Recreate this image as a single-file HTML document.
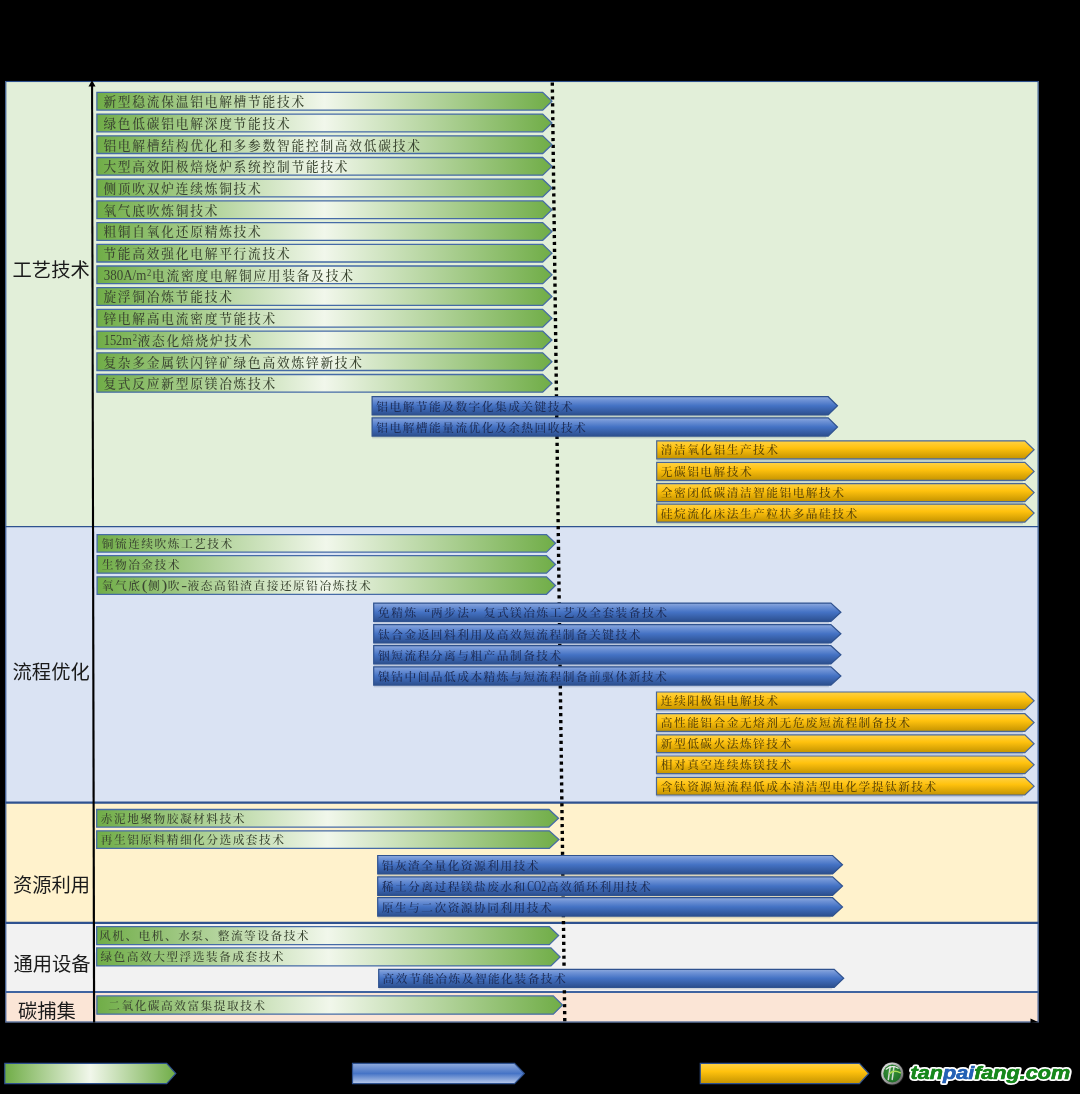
<!DOCTYPE html>
<html lang="zh-CN"><head><meta charset="utf-8"><title>技术路线图</title>
<style>
html,body{margin:0;padding:0;background:#000;}
body{width:1080px;height:1094px;overflow:hidden;}
svg{display:block;}
.lab{font-family:"Liberation Sans","Noto Sans CJK SC",sans-serif;font-size:19.3px;fill:#1a1a1a;}
.t{font-family:"Liberation Serif","Noto Serif CJK SC",serif;font-weight:500;}
.g{fill:#3b4632;}
.b{fill:#1d2c55;}
.o{fill:#5b4508;}
</style></head><body>
<svg width="1080" height="1094" viewBox="0 0 1080 1094">
<defs>
<linearGradient id="gg" x1="0" y1="0" x2="1" y2="0">
<stop offset="0" stop-color="#70ad47"/><stop offset="0.5" stop-color="#f1f7eb"/><stop offset="1" stop-color="#70ad47"/>
</linearGradient>
<linearGradient id="bg" x1="0" y1="0" x2="0" y2="1">
<stop offset="0" stop-color="#8faadc"/><stop offset="0.18" stop-color="#6f93d6"/><stop offset="0.5" stop-color="#4472c4"/><stop offset="1" stop-color="#2c4f8e"/>
</linearGradient>
<linearGradient id="og" x1="0" y1="0" x2="0" y2="1">
<stop offset="0" stop-color="#ffd245"/><stop offset="0.4" stop-color="#ffc20e"/><stop offset="1" stop-color="#c49300"/>
</linearGradient>
<linearGradient id="bl" x1="0" y1="0" x2="0" y2="1">
<stop offset="0" stop-color="#8faadc"/><stop offset="0.5" stop-color="#4674c6"/><stop offset="1" stop-color="#b9caea"/>
</linearGradient>
<radialGradient id="lg" cx="0.45" cy="0.4" r="0.6">
<stop offset="0" stop-color="#3b973b"/><stop offset="1" stop-color="#1f6f27"/>
</radialGradient>
<linearGradient id="ring" x1="0" y1="0" x2="1" y2="1">
<stop offset="0" stop-color="#f2f2f2"/><stop offset="1" stop-color="#5a5a5a"/>
</linearGradient>
</defs>
<rect x="0" y="0" width="1080" height="1094" fill="#000"/>

<rect x="5.3" y="81.0" width="1033.3" height="445.6" fill="#e2efd9"/>
<rect x="5.3" y="526.6" width="1033.3" height="276.0" fill="#dae3f3"/>
<rect x="5.3" y="802.6" width="1033.3" height="120.3" fill="#fff2cc"/>
<rect x="5.3" y="922.9" width="1033.3" height="69.1" fill="#f2f2f2"/>
<rect x="5.3" y="992.0" width="1033.3" height="30.4" fill="#fbe5d6"/>
<rect x="5.8" y="81.5" width="1032.3" height="940.5" fill="none" stroke="#2f528f" stroke-width="1.1"/>
<line x1="5.3" x2="1038.6" y1="526.6" y2="526.6" stroke="#2f528f" stroke-width="1.3"/>
<line x1="5.3" x2="1038.6" y1="802.6" y2="802.6" stroke="#2f528f" stroke-width="2.2"/>
<line x1="5.3" x2="1038.6" y1="922.9" y2="922.9" stroke="#2f528f" stroke-width="2.2"/>
<line x1="5.3" x2="1038.6" y1="992.0" y2="992.0" stroke="#3f639f" stroke-width="2.2"/>
<line x1="552.3" y1="82.5" x2="564.8" y2="1022.5" stroke="#000" stroke-width="3.4" stroke-dasharray="3.2 3.73"/>
<polygon points="91.05,86 93.1,86 95.2,1022.4 93.0,1022.4" fill="#000"/>
<polygon points="92.0,80.3 95.5,86.6 88.5,86.6" fill="#000"/>
<polygon points="1038.6,1022.2 1030.5,1018.6 1030.5,1023" fill="#000"/>
<text class="lab" x="12.6" y="276.9">工艺技术</text>
<text class="lab" x="12.6" y="679.2">流程优化</text>
<text class="lab" x="12.9" y="892.0">资源利用</text>
<text class="lab" x="13.5" y="971.0">通用设备</text>
<text class="lab" x="17.9" y="1018.0">碳捕集</text>
<polygon points="96.9,92.4 542.7,92.4 551.9,101.25 542.7,110.1 96.9,110.1" fill="url(#gg)" stroke="#466ba6" stroke-width="1.3" stroke-linejoin="miter"/>
<text class="t g" x="103.4" y="106.1" font-size="12.7" letter-spacing="1.78">新型稳流保温铝电解槽节能技术</text>
<polygon points="96.9,114.1 542.7,114.1 551.9,122.95 542.7,131.8 96.9,131.8" fill="url(#gg)" stroke="#466ba6" stroke-width="1.3" stroke-linejoin="miter"/>
<text class="t g" x="103.4" y="127.8" font-size="12.7" letter-spacing="1.78">绿色低碳铝电解深度节能技术</text>
<polygon points="96.9,135.8 542.7,135.8 551.9,144.65 542.7,153.5 96.9,153.5" fill="url(#gg)" stroke="#466ba6" stroke-width="1.3" stroke-linejoin="miter"/>
<text class="t g" x="103.4" y="149.5" font-size="12.7" letter-spacing="1.78">铝电解槽结构优化和多参数智能控制高效低碳技术</text>
<polygon points="96.9,157.5 542.7,157.5 551.9,166.35 542.7,175.2 96.9,175.2" fill="url(#gg)" stroke="#466ba6" stroke-width="1.3" stroke-linejoin="miter"/>
<text class="t g" x="103.4" y="171.2" font-size="12.7" letter-spacing="1.78">大型高效阳极焙烧炉系统控制节能技术</text>
<polygon points="96.9,179.2 542.7,179.2 551.9,188.05 542.7,196.9 96.9,196.9" fill="url(#gg)" stroke="#466ba6" stroke-width="1.3" stroke-linejoin="miter"/>
<text class="t g" x="103.4" y="192.9" font-size="12.7" letter-spacing="1.78">侧顶吹双炉连续炼铜技术</text>
<polygon points="96.9,200.9 542.7,200.9 551.9,209.75 542.7,218.6 96.9,218.6" fill="url(#gg)" stroke="#466ba6" stroke-width="1.3" stroke-linejoin="miter"/>
<text class="t g" x="103.4" y="214.6" font-size="12.7" letter-spacing="1.78">氧气底吹炼铜技术</text>
<polygon points="96.9,222.6 542.7,222.6 551.9,231.45 542.7,240.3 96.9,240.3" fill="url(#gg)" stroke="#466ba6" stroke-width="1.3" stroke-linejoin="miter"/>
<text class="t g" x="103.4" y="236.3" font-size="12.7" letter-spacing="1.78">粗铜自氧化还原精炼技术</text>
<polygon points="96.9,244.3 542.7,244.3 551.9,253.15 542.7,262.0 96.9,262.0" fill="url(#gg)" stroke="#466ba6" stroke-width="1.3" stroke-linejoin="miter"/>
<text class="t g" x="103.4" y="258.0" font-size="12.7" letter-spacing="1.78">节能高效强化电解平行流技术</text>
<polygon points="96.9,266.0 542.7,266.0 551.9,274.85 542.7,283.7 96.9,283.7" fill="url(#gg)" stroke="#466ba6" stroke-width="1.3" stroke-linejoin="miter"/>
<text class="t g" x="103.7" y="279.7" font-size="15.6" textLength="42.6" lengthAdjust="spacingAndGlyphs">380A/m</text>
<text class="t g" x="147.1" y="275.8" font-size="9.8" textLength="4.3" lengthAdjust="spacingAndGlyphs">2</text>
<text class="t g" x="152.1" y="279.7" font-size="12.7" letter-spacing="1.78">电流密度电解铜应用装备及技术</text>
<polygon points="96.9,287.7 542.7,287.7 551.9,296.55 542.7,305.4 96.9,305.4" fill="url(#gg)" stroke="#466ba6" stroke-width="1.3" stroke-linejoin="miter"/>
<text class="t g" x="103.4" y="301.4" font-size="12.7" letter-spacing="1.78">旋浮铜冶炼节能技术</text>
<polygon points="96.9,309.4 542.7,309.4 551.9,318.25 542.7,327.1 96.9,327.1" fill="url(#gg)" stroke="#466ba6" stroke-width="1.3" stroke-linejoin="miter"/>
<text class="t g" x="103.4" y="323.1" font-size="12.7" letter-spacing="1.78">锌电解高电流密度节能技术</text>
<polygon points="96.9,331.1 542.7,331.1 551.9,339.95 542.7,348.8 96.9,348.8" fill="url(#gg)" stroke="#466ba6" stroke-width="1.3" stroke-linejoin="miter"/>
<text class="t g" x="103.7" y="344.8" font-size="15.6" textLength="28.2" lengthAdjust="spacingAndGlyphs">152m</text>
<text class="t g" x="132.7" y="340.9" font-size="9.8" textLength="4.3" lengthAdjust="spacingAndGlyphs">2</text>
<text class="t g" x="137.6" y="344.8" font-size="12.7" letter-spacing="1.78">液态化焙烧炉技术</text>
<polygon points="96.9,352.8 542.7,352.8 551.9,361.65 542.7,370.5 96.9,370.5" fill="url(#gg)" stroke="#466ba6" stroke-width="1.3" stroke-linejoin="miter"/>
<text class="t g" x="103.4" y="366.5" font-size="12.7" letter-spacing="1.78">复杂多金属铁闪锌矿绿色高效炼锌新技术</text>
<polygon points="96.9,374.5 542.7,374.5 551.9,383.35 542.7,392.2 96.9,392.2" fill="url(#gg)" stroke="#466ba6" stroke-width="1.3" stroke-linejoin="miter"/>
<text class="t g" x="103.4" y="388.2" font-size="12.7" letter-spacing="1.78">复式反应新型原镁冶炼技术</text>
<rect x="372.1" y="414.9" width="454.1" height="2.2" fill="#1f3a5f" opacity="0.16"/>
<polygon points="372.1,396.7 828.2,396.7 837.5,405.80 828.2,414.9 372.1,414.9" fill="url(#bg)" stroke="#2f528f" stroke-width="1.2" stroke-linejoin="miter"/>
<text class="t b" x="376.3" y="410.6" font-size="11.7" letter-spacing="1.5">铝电解节能及数字化集成关键技术</text>
<rect x="372.1" y="436.1" width="454.1" height="2.2" fill="#1f3a5f" opacity="0.16"/>
<polygon points="372.1,417.9 828.2,417.9 837.5,427.00 828.2,436.1 372.1,436.1" fill="url(#bg)" stroke="#2f528f" stroke-width="1.2" stroke-linejoin="miter"/>
<text class="t b" x="376.3" y="431.8" font-size="11.7" letter-spacing="1.5">铝电解槽能量流优化及余热回收技术</text>
<rect x="656.7" y="458.8" width="366.2" height="2.2" fill="#1f3a5f" opacity="0.16"/>
<polygon points="656.7,440.8 1024.9,440.8 1034.1,449.80 1024.9,458.8 656.7,458.8" fill="url(#og)" stroke="#4a6796" stroke-width="1.2" stroke-linejoin="miter"/>
<text class="t o" x="660.8" y="454.3" font-size="11.7" letter-spacing="1.5">清洁氧化铝生产技术</text>
<rect x="656.7" y="480.4" width="366.2" height="2.2" fill="#1f3a5f" opacity="0.16"/>
<polygon points="656.7,462.4 1024.9,462.4 1034.1,471.40 1024.9,480.4 656.7,480.4" fill="url(#og)" stroke="#4a6796" stroke-width="1.2" stroke-linejoin="miter"/>
<text class="t o" x="660.8" y="475.9" font-size="11.7" letter-spacing="1.5">无碳铝电解技术</text>
<rect x="656.7" y="501.6" width="366.2" height="2.2" fill="#1f3a5f" opacity="0.16"/>
<polygon points="656.7,483.6 1024.9,483.6 1034.1,492.60 1024.9,501.6 656.7,501.6" fill="url(#og)" stroke="#4a6796" stroke-width="1.2" stroke-linejoin="miter"/>
<text class="t o" x="660.8" y="497.1" font-size="11.7" letter-spacing="1.5">全密闭低碳清洁智能铝电解技术</text>
<rect x="656.7" y="522.1" width="366.2" height="2.2" fill="#1f3a5f" opacity="0.16"/>
<polygon points="656.7,504.1 1024.9,504.1 1034.1,513.10 1024.9,522.1 656.7,522.1" fill="url(#og)" stroke="#4a6796" stroke-width="1.2" stroke-linejoin="miter"/>
<text class="t o" x="660.8" y="517.6" font-size="11.7" letter-spacing="1.5">硅烷流化床法生产粒状多晶硅技术</text>
<polygon points="97.1,534.6 546.5,534.6 555.5,543.35 546.5,552.1 97.1,552.1" fill="url(#gg)" stroke="#466ba6" stroke-width="1.3" stroke-linejoin="miter"/>
<text class="t g" x="101.8" y="547.9" font-size="11.7" letter-spacing="1.5">铜锍连续吹炼工艺技术</text>
<polygon points="97.1,555.7 546.5,555.7 555.5,564.45 546.5,573.2 97.1,573.2" fill="url(#gg)" stroke="#466ba6" stroke-width="1.3" stroke-linejoin="miter"/>
<text class="t g" x="101.8" y="569.0" font-size="11.7" letter-spacing="1.5">生物冶金技术</text>
<polygon points="97.1,576.8 546.5,576.8 555.5,585.55 546.5,594.3 97.1,594.3" fill="url(#gg)" stroke="#466ba6" stroke-width="1.3" stroke-linejoin="miter"/>
<text class="t g" x="101.8" y="590.1" font-size="11.7" letter-spacing="1.5">氧气底</text>
<text class="t g" x="141.7" y="590.1" font-size="14.3" textLength="5.8" lengthAdjust="spacingAndGlyphs">(</text>
<text class="t g" x="148.0" y="590.1" font-size="11.7" letter-spacing="1.5">侧</text>
<text class="t g" x="161.5" y="590.1" font-size="14.3" textLength="5.8" lengthAdjust="spacingAndGlyphs">)</text>
<text class="t g" x="167.8" y="590.1" font-size="11.7" letter-spacing="1.5">吹</text>
<text class="t g" x="181.3" y="590.1" font-size="14.3" textLength="5.8" lengthAdjust="spacingAndGlyphs">-</text>
<text class="t g" x="187.6" y="590.1" font-size="11.7" letter-spacing="1.5">液态高铅渣直接还原铅冶炼技术</text>
<rect x="373.7" y="621.4" width="455.2" height="2.2" fill="#1f3a5f" opacity="0.16"/>
<polygon points="373.7,603.1 830.9,603.1 840.9,612.25 830.9,621.4 373.7,621.4" fill="url(#bg)" stroke="#2f528f" stroke-width="1.2" stroke-linejoin="miter"/>
<text class="t b" x="378.1" y="617.1" font-size="11.7" letter-spacing="1.5">免精炼</text>
<text class="t b" x="424.3" y="617.1" font-size="13.2">“</text>
<text class="t b" x="430.9" y="617.1" font-size="11.7" letter-spacing="1.5">两步法</text>
<text class="t b" x="470.8" y="617.1" font-size="13.2">”</text>
<text class="t b" x="483.7" y="617.1" font-size="11.7" letter-spacing="1.5">复式镁冶炼工艺及全套装备技术</text>
<rect x="373.7" y="642.9" width="455.2" height="2.2" fill="#1f3a5f" opacity="0.16"/>
<polygon points="373.7,624.6 830.9,624.6 840.9,633.75 830.9,642.9 373.7,642.9" fill="url(#bg)" stroke="#2f528f" stroke-width="1.2" stroke-linejoin="miter"/>
<text class="t b" x="378.1" y="638.6" font-size="11.7" letter-spacing="1.5">钛合金返回料利用及高效短流程制备关键技术</text>
<rect x="373.7" y="664.0" width="455.2" height="2.2" fill="#1f3a5f" opacity="0.16"/>
<polygon points="373.7,645.7 830.9,645.7 840.9,654.85 830.9,664.0 373.7,664.0" fill="url(#bg)" stroke="#2f528f" stroke-width="1.2" stroke-linejoin="miter"/>
<text class="t b" x="378.1" y="659.7" font-size="11.7" letter-spacing="1.5">铟短流程分离与粗产品制备技术</text>
<rect x="373.7" y="685.1" width="455.2" height="2.2" fill="#1f3a5f" opacity="0.16"/>
<polygon points="373.7,666.8 830.9,666.8 840.9,675.95 830.9,685.1 373.7,685.1" fill="url(#bg)" stroke="#2f528f" stroke-width="1.2" stroke-linejoin="miter"/>
<text class="t b" x="378.1" y="680.8" font-size="11.7" letter-spacing="1.5">镍钴中间品低成本精炼与短流程制备前驱体新技术</text>
<rect x="656.5" y="709.7" width="366.4" height="2.2" fill="#1f3a5f" opacity="0.16"/>
<polygon points="656.5,692.0 1024.9,692.0 1034.1,700.85 1024.9,709.7 656.5,709.7" fill="url(#og)" stroke="#4a6796" stroke-width="1.2" stroke-linejoin="miter"/>
<text class="t o" x="660.8" y="705.4" font-size="11.7" letter-spacing="1.5">连续阳极铝电解技术</text>
<rect x="656.5" y="731.4" width="366.4" height="2.2" fill="#1f3a5f" opacity="0.16"/>
<polygon points="656.5,713.7 1024.9,713.7 1034.1,722.55 1024.9,731.4 656.5,731.4" fill="url(#og)" stroke="#4a6796" stroke-width="1.2" stroke-linejoin="miter"/>
<text class="t o" x="660.8" y="727.1" font-size="11.7" letter-spacing="1.5">高性能铝合金无熔剂无危废短流程制备技术</text>
<rect x="656.5" y="752.6" width="366.4" height="2.2" fill="#1f3a5f" opacity="0.16"/>
<polygon points="656.5,734.9 1024.9,734.9 1034.1,743.75 1024.9,752.6 656.5,752.6" fill="url(#og)" stroke="#4a6796" stroke-width="1.2" stroke-linejoin="miter"/>
<text class="t o" x="660.8" y="748.3" font-size="11.7" letter-spacing="1.5">新型低碳火法炼锌技术</text>
<rect x="656.5" y="773.7" width="366.4" height="2.2" fill="#1f3a5f" opacity="0.16"/>
<polygon points="656.5,756.0 1024.9,756.0 1034.1,764.85 1024.9,773.7 656.5,773.7" fill="url(#og)" stroke="#4a6796" stroke-width="1.2" stroke-linejoin="miter"/>
<text class="t o" x="660.8" y="769.4" font-size="11.7" letter-spacing="1.5">相对真空连续炼镁技术</text>
<rect x="656.5" y="795.0" width="366.4" height="2.2" fill="#1f3a5f" opacity="0.16"/>
<polygon points="656.5,777.3 1024.9,777.3 1034.1,786.15 1024.9,795.0 656.5,795.0" fill="url(#og)" stroke="#4a6796" stroke-width="1.2" stroke-linejoin="miter"/>
<text class="t o" x="660.8" y="790.7" font-size="11.7" letter-spacing="1.5">含钛资源短流程低成本清洁型电化学提钛新技术</text>
<polygon points="96.7,809.5 549.0,809.5 558.5,818.30 549.0,827.1 96.7,827.1" fill="url(#gg)" stroke="#466ba6" stroke-width="1.3" stroke-linejoin="miter"/>
<text class="t g" x="100.8" y="822.8" font-size="11.7" letter-spacing="1.5">赤泥地聚物胶凝材料技术</text>
<polygon points="96.7,830.8 549.3,830.8 558.9,839.60 549.3,848.4 96.7,848.4" fill="url(#gg)" stroke="#466ba6" stroke-width="1.3" stroke-linejoin="miter"/>
<text class="t g" x="100.8" y="844.1" font-size="11.7" letter-spacing="1.5">再生铝原料精细化分选成套技术</text>
<rect x="377.7" y="873.9" width="452.9" height="2.2" fill="#1f3a5f" opacity="0.16"/>
<polygon points="377.7,855.5 832.6,855.5 842.5,864.70 832.6,873.9 377.7,873.9" fill="url(#bg)" stroke="#2f528f" stroke-width="1.2" stroke-linejoin="miter"/>
<text class="t b" x="381.7" y="869.5" font-size="11.7" letter-spacing="1.5">铝灰渣全量化资源利用技术</text>
<rect x="377.7" y="895.3" width="452.9" height="2.2" fill="#1f3a5f" opacity="0.16"/>
<polygon points="377.7,876.9 832.6,876.9 842.5,886.10 832.6,895.3 377.7,895.3" fill="url(#bg)" stroke="#2f528f" stroke-width="1.2" stroke-linejoin="miter"/>
<text class="t b" x="381.7" y="890.9" font-size="11.7" letter-spacing="1.5">稀土分离过程镁盐废水和</text>
<text class="t b" x="527.2" y="890.9" font-size="14.3" textLength="19.0" lengthAdjust="spacingAndGlyphs">CO2</text>
<text class="t b" x="546.7" y="890.9" font-size="11.7" letter-spacing="1.5">高效循环利用技术</text>
<rect x="377.7" y="916.1" width="452.9" height="2.2" fill="#1f3a5f" opacity="0.16"/>
<polygon points="377.7,897.7 832.6,897.7 842.5,906.90 832.6,916.1 377.7,916.1" fill="url(#bg)" stroke="#2f528f" stroke-width="1.2" stroke-linejoin="miter"/>
<text class="t b" x="381.7" y="911.7" font-size="11.7" letter-spacing="1.5">原生与二次资源协同利用技术</text>
<polygon points="96.7,926.6 549.3,926.6 558.6,935.60 549.3,944.6 96.7,944.6" fill="url(#gg)" stroke="#466ba6" stroke-width="1.3" stroke-linejoin="miter"/>
<text class="t g" x="99.0" y="940.1" font-size="11.7" letter-spacing="1.5">风机、电机、水泵、整流等设备技术</text>
<polygon points="96.7,947.9 550.9,947.9 560.1,956.90 550.9,965.9 96.7,965.9" fill="url(#gg)" stroke="#466ba6" stroke-width="1.3" stroke-linejoin="miter"/>
<text class="t g" x="100.4" y="961.4" font-size="11.7" letter-spacing="1.5">绿色高效大型浮选装备成套技术</text>
<rect x="378.7" y="987.3" width="453.5" height="2.2" fill="#1f3a5f" opacity="0.16"/>
<polygon points="378.7,969.3 834.2,969.3 843.7,978.30 834.2,987.3 378.7,987.3" fill="url(#bg)" stroke="#2f528f" stroke-width="1.2" stroke-linejoin="miter"/>
<text class="t b" x="382.6" y="983.1" font-size="11.7" letter-spacing="1.5">高效节能冶炼及智能化装备技术</text>
<polygon points="96.9,995.9 553.3,995.9 562.5,1005.05 553.3,1014.2 96.9,1014.2" fill="url(#gg)" stroke="#466ba6" stroke-width="1.3" stroke-linejoin="miter"/>
<text class="t g" x="108.3" y="1009.6" font-size="11.7" letter-spacing="1.5">二氧化碳高效富集提取技术</text>
<polygon points="4.8,1063.4 166.7,1063.4 175.8,1073.5 166.7,1083.6 4.8,1083.6" fill="url(#gg)" stroke="#2f528f" stroke-width="1.2"/>
<polygon points="352.5,1063.4 514.5,1063.4 524.3,1073.5 514.5,1083.6 352.5,1083.6" fill="url(#bl)" stroke="#2f528f" stroke-width="1.2"/>
<polygon points="700.3,1063.4 859.4,1063.4 868.7,1073.5 859.4,1083.6 700.3,1083.6" fill="url(#og)" stroke="#2f528f" stroke-width="1.2"/>
<g>
<circle cx="892.3" cy="1073.8" r="11.7" fill="#1c1c1c"/>
<circle cx="892.2" cy="1073.5" r="11" fill="url(#ring)"/>
<circle cx="892.2" cy="1073.5" r="8.9" fill="url(#lg)"/>
<path d="M890.2,1066.6 L888.3,1079.6 M894.0,1066.4 L892.2,1079.4" fill="none" stroke="#d3dcd3" stroke-width="1.5" stroke-linecap="round"/>
<path d="M886.2,1069.2 C889.5,1066.2 894.5,1065.8 898.2,1068.2" fill="none" stroke="#e9efe9" stroke-width="1.2" stroke-linecap="round"/>
<path d="M889.6,1073.6 C892.6,1070.8 896.4,1070.8 900.4,1072.8" fill="none" stroke="#a9dc58" stroke-width="1.5" stroke-linecap="round"/>
</g>
<text x="910.6" y="1078.7" font-family="'Liberation Sans',sans-serif" font-weight="bold" font-style="italic" font-size="17.6" textLength="159.5" lengthAdjust="spacingAndGlyphs" stroke="#fff" stroke-width="3.9" stroke-linejoin="round" paint-order="stroke" fill="#17881c"><tspan>tan</tspan><tspan fill="#2461b5">pai</tspan><tspan>fang.com</tspan></text>
<text x="910.6" y="1078.7" font-family="'Liberation Sans',sans-serif" font-weight="bold" font-style="italic" font-size="17.6" textLength="159.5" lengthAdjust="spacingAndGlyphs" stroke-width="0.5" stroke="#17881c" fill="#17881c"><tspan>tan</tspan><tspan fill="#2461b5" stroke="#2461b5">pai</tspan><tspan>fang.com</tspan></text>
</svg></body></html>
